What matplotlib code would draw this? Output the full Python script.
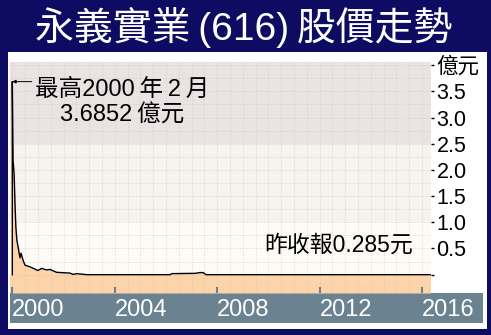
import numpy as np
import matplotlib
matplotlib.use('Agg')
import matplotlib.pyplot as plt
from matplotlib.patches import Rectangle

plt.rcParams['font.family'] = ['Liberation Sans', 'Noto Sans CJK TC', 'DejaVu Sans']

# values (decimal year, 億元)
years = [2000.00, 2000.00, 2000.03, 2000.07, 2000.11, 2000.14, 2000.18, 2000.23,
         2000.30, 2000.34, 2000.43, 2000.50, 2000.69, 2001.00, 2001.15, 2001.34,
         2001.47, 2001.73, 2002.25, 2002.38, 2002.52, 2002.90, 2006.16, 2006.24,
         2007.14, 2007.33, 2007.45, 2007.57, 2016.32]
values = [0.0, 3.6852, 2.18, 1.93, 1.28, 0.90, 0.65, 0.52,
          0.32, 0.41, 0.26, 0.18, 0.15, 0.08, 0.12, 0.09,
          0.10, 0.045, 0.03, 0.005, 0.02, 0.0, 0.0, 0.02,
          0.025, 0.04, 0.04, 0.0, 0.0]

peak_year = 2000.0
peak_value = 3.6852
last_close = 0.285

title = '永義實業\u2009(616)\u2009股價走勢'
peak_text = '最高2000\u2009年\u20092\u2009月\n3.6852\u2009億元'
year_ticks = [2000, 2004, 2008, 2012, 2016]
value_ticks = [0, 0.5, 1.0, 1.5, 2.0, 2.5, 3.0, 3.5, 4.0]
value_labels = ['', '0.5', '1.0', '1.5', '2.0', '2.5', '3.0', '3.5', '億元']

navy = '#0e0b62'
orange = '#fdd3aa'
bar = '#6b8290'

W, H = 491, 335
def fx(px):
    return px / W
def fy(py):
    return 1 - py / H

fig = plt.figure(figsize=(W / 100, H / 100), dpi=100, facecolor=navy)

# white panel and the grey-blue year strip
fig.patches.append(Rectangle((fx(8), fy(329)), (487 - 8) / W, (329 - 52) / H,
                             transform=fig.transFigure, facecolor='white',
                             edgecolor='none', zorder=-2))
fig.patches.append(Rectangle((fx(10), fy(323)), (483 - 10) / W, (323 - 293) / H,
                             transform=fig.transFigure, facecolor=bar,
                             edgecolor='none', zorder=-1))

fig.text(fx(244), fy(28), title, color='white', fontsize=28, ha='center', va='center')

ax = fig.add_axes([fx(10), fy(293), (431 - 10) / W, (293 - 62) / H])
ymin, ymax = -0.35, 4.06
ax.set_xlim(1999.91, 2016.35)
ax.set_ylim(ymin, ymax)
ax.patch.set_alpha(0)

# background bands
ax.axhspan(2.5, ymax, color='#ebe3e3', lw=0)
ax.axhspan(1.0, 2.5, color='#f6f2ee', lw=0)
ax.axhspan(ymin, 1.0, color='#fdfbf6', lw=0)
ax.axhspan(ymin, 0, color=orange, lw=0)

ax.fill_between(years, values, ymin, color=orange, lw=0)
ax.plot(years, values, color='black', lw=1.0, zorder=3)

# peak annotation
ax.annotate('', xy=(peak_year, peak_value), xytext=(14, 0), textcoords='offset points',
            arrowprops=dict(arrowstyle='-|>', lw=0.7, color='black',
                            mutation_scale=5, shrinkA=0, shrinkB=0))
ax.annotate(peak_text, xy=(peak_year, peak_value),
            xytext=(79, -15), textcoords='offset points', ha='center', va='center',
            multialignment='center', fontsize=17, linespacing=1.25)

ax.text(0.78, 0.208, f'昨收報{last_close}元', transform=ax.transAxes,
        ha='center', va='center', fontsize=16.5)

# axes styling
for s in ax.spines.values():
    s.set_visible(False)

ax.set_xticks(year_ticks)
ax.set_xticklabels([str(y) for y in year_ticks], ha='left')
ax.tick_params(axis='x', direction='in', length=4.3, width=1.5, color=bar,
               labelcolor='white', labelsize=17, pad=4.5)

ax.yaxis.tick_right()
ax.set_yticks(value_ticks)
ax.set_yticklabels(value_labels)
ax.tick_params(axis='y', direction='out', length=2, width=1, color='black',
               labelsize=15.5, pad=2)

ax.set_xticks(np.arange(2000, 2016.5, 0.5), minor=True)
ax.set_yticks(np.arange(0, 4.01, 0.25), minor=True)
ax.tick_params(which='minor', length=0)
ax.grid(which='both', ls=':', lw=0.6, color='#c8bebe', alpha=0.7)

fig.savefig('out.png', dpi=100, facecolor=navy)
